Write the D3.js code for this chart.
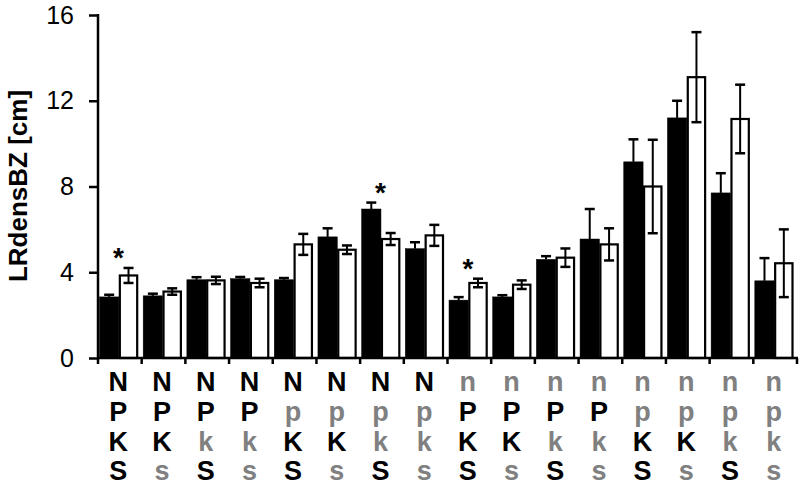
<!DOCTYPE html>
<html><head><meta charset="utf-8">
<script src="https://cdn.jsdelivr.net/npm/d3@7"></script>
<style>body{margin:0;background:#fff}</style>
</head><body>
<svg id="c" width="800" height="486"></svg>
<script>
const nLabels = ["N","N","N","N","N","N","N","N","n","n","n","n","n","n","n","n"];
const pLabels = ["P","P","P","P","p","p","p","p","P","P","P","P","p","p","p","p"];
const kLabels = ["K","K","k","k","K","K","k","k","K","K","k","k","K","K","k","k"];
const sLabels = ["S","s","S","s","S","s","S","s","S","s","S","s","S","s","S","s"];
const blackValues = [2.85,2.9,3.65,3.7,3.65,5.65,6.95,5.1,2.7,2.85,4.6,5.55,9.15,11.2,7.7,3.6];
const blackErrors = [0.1,0.1,0.12,0.08,0.08,0.4,0.3,0.3,0.14,0.08,0.15,1.4,1.05,0.8,0.92,1.06];
const whiteValues = [3.85,3.1,3.62,3.5,5.3,5.05,5.55,5.72,3.5,3.42,4.68,5.3,8.0,13.1,11.15,4.42];
const whiteErrors = [0.35,0.15,0.17,0.2,0.49,0.2,0.28,0.49,0.2,0.2,0.43,0.75,2.18,2.1,1.6,1.58];
const significant = [true,false,false,false,false,false,true,false,true,false,false,false,false,false,false,false];
const yTicks = [0,4,8,12,16];
const yLabel = "LRdensBZ [cm]";

const svg = d3.select("#c");
const groups = d3.range(16);
const x = d3.scaleBand().domain(groups).range([98,797]).padding(0);
const sub = d3.scaleBand().domain(["b","w"]).range([1.5, x.bandwidth()-3.5]).padding(0);
const y = d3.scaleLinear().domain([0,16]).range([358,15]);

// bars
const data = groups.map(i => ({i, b:blackValues[i], be:blackErrors[i], w:whiteValues[i], we:whiteErrors[i]}));
const g = svg.append("g");
data.forEach(d => {
  const gx = x(d.i);
  [["b",d.b,d.be],["w",d.w,d.we]].forEach(([k,v,e]) => {
    const bx = gx + sub(k), bw = sub.bandwidth();
    g.append("rect").attr("x", bx + (k==="w"?1:0)).attr("y", y(v))
      .attr("width", bw - (k==="w"?2:0)).attr("height", y(0)-y(v))
      .attr("fill", k==="b" ? "#000" : "#fff").attr("stroke","#000").attr("stroke-width", k==="w"?2.2:0.5);
    const cx = bx + bw/2;
    const topE = y(v+e);
    const botE = k==="b" ? y(v) : y(v-e);
    g.append("line").attr("x1",cx).attr("x2",cx).attr("y1",topE).attr("y2",botE).attr("stroke","#000").attr("stroke-width",2);
    g.append("line").attr("x1",cx-5).attr("x2",cx+5).attr("y1",topE).attr("y2",topE).attr("stroke","#000").attr("stroke-width",2.5);
    if (k==="w") g.append("line").attr("x1",cx-5).attr("x2",cx+5).attr("y1",botE).attr("y2",botE).attr("stroke","#000").attr("stroke-width",2.5);
  });
  if (significant[d.i]) {
    const top = Math.min(y(d.b+d.be), y(d.w+d.we));
    svg.append("text").attr("x", gx + x.bandwidth()/2 - 1.5).attr("y", top - 1)
      .attr("text-anchor","middle").attr("font-family","Liberation Sans, Arial, sans-serif")
      .attr("font-size",28).attr("font-weight","bold").text("*");
  }
});

// y axis
const ya = svg.append("g").attr("transform","translate(98,0)")
  .call(d3.axisLeft(y).tickValues(yTicks).tickSize(9).tickPadding(15));
ya.select(".domain").attr("stroke-width",2.5).attr("d","M0,14V358");
ya.selectAll(".tick line").attr("stroke-width",2.5);
ya.selectAll("text").attr("font-family","Liberation Sans, Arial, sans-serif").attr("font-size",25).attr("fill","#000");

// x axis
const xa = svg.append("g").attr("transform","translate(0,358)");
xa.append("line").attr("x1",97).attr("x2",798).attr("stroke","#000").attr("stroke-width",2.5);
const bounds = groups.map(i => x(i)).concat([x(15)+x.bandwidth()]);
xa.selectAll(".xt").data(bounds).join("line").attr("x1",d=>d).attr("x2",d=>d).attr("y1",0).attr("y2",6)
  .attr("stroke","#000").attr("stroke-width",2.5);

// category labels
const rows = [nLabels,pLabels,kLabels,sLabels];
const baselines = [391,421,451,480];
rows.forEach((row,r) => {
  svg.append("g").selectAll("text").data(row).join("text")
    .attr("x",(d,i)=> x(i) + x.bandwidth()/2 - 1.5)
    .attr("y", baselines[r])
    .attr("text-anchor","middle")
    .attr("font-family","Liberation Sans, Arial, sans-serif")
    .attr("font-weight","bold").attr("font-size",27)
    .attr("fill", d => d === d.toUpperCase() ? "#000" : "#808080")
    .text(d=>d);
});

// y label
svg.append("text").attr("transform","translate(27,186) rotate(-90)")
  .attr("text-anchor","middle").attr("font-family","Liberation Sans, Arial, sans-serif")
  .attr("font-weight","bold").attr("font-size",26).text(yLabel);
</script>
</body></html>
